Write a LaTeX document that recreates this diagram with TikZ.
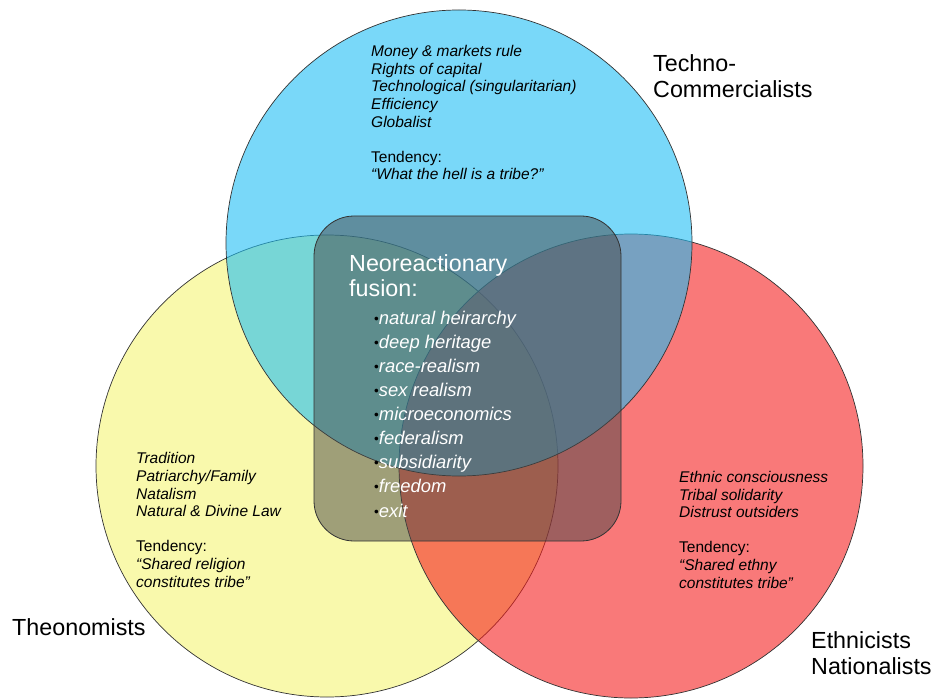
\documentclass[tikz,border=0pt]{standalone}
\usepackage{fontspec}
\setmainfont{Liberation Sans}
\definecolor{vyellow}{RGB}{245,245,115}
\definecolor{vred}{RGB}{245,28,28}
\definecolor{vblue}{RGB}{28,190,245}
\definecolor{vgray}{RGB}{70,70,70}
\newcommand\nrxbul{\raisebox{1pt}{\color{black}\fontsize{13.5}{13.5}\selectfont •}}
\begin{document}
\begin{tikzpicture}[x=1pt,y=-1pt,
  venn/.style={circle, draw=black!80, line width=0.7pt, fill opacity=0.59, inner sep=0pt},
  body/.style={anchor=base west, inner sep=0pt, align=left, font=\fontsize{15.5}{17.6}\selectfont, text=black},
  title/.style={anchor=base west, inner sep=0pt, align=left, font=\fontsize{23.3}{26}\selectfont, text=black},
  fusionbox/.style={draw=black!80, line width=0.8pt, fill=vgray, fill opacity=0.5, rounded corners=40pt, inner sep=0pt},
]
\useasboundingbox (0,0) rectangle (933,700);
\fill[white] (0,0) rectangle (933,700);
\node[venn, fill=vyellow, minimum size=462pt] (theo) at (327,466) {};
\node[venn, fill=vred, minimum size=464pt] (ethn) at (631,466) {};
\node[venn, fill=vblue, minimum size=466pt] (tech) at (459,243) {};
\node[fusionbox, minimum width=307pt, minimum height=325pt] (fus) at (467.5,378.5) {};

\node[body] (techtxt) at (371,180) {\textit{Money \& markets rule}\\
\textit{Rights of capital}\\
\textit{Technological (singularitarian)}\\
\textit{Efficiency}\\
\textit{Globalist}\\[17.6pt]
Tendency:\\
\textit{“What the hell is a tribe?”}};

\node[body] (theotxt) at (136,587) {\textit{Tradition}\\
\textit{Patriarchy/Family}\\
\textit{Natalism}\\
\textit{Natural \& Divine Law}\\[17.6pt]
Tendency:\\
\textit{“Shared religion}\\
\textit{constitutes tribe”}};

\node[body] (ethntxt) at (679,588) {\textit{Ethnic consciousness}\\
\textit{Tribal solidarity}\\
\textit{Distrust outsiders}\\[17.6pt]
Tendency:\\
\textit{“Shared ethny}\\
\textit{constitutes tribe”}};

\node[title, text=white, font=\fontsize{23.3}{25}\selectfont] (neo) at (349,297) {Neoreactionary\\fusion:};
\node[anchor=base west, inner sep=0pt, align=left, text=white, font=\fontsize{18.4}{24.1}\selectfont] (neolist) at (374,517) {%
\nrxbul\textit{natural heirarchy}\\
\nrxbul\textit{deep heritage}\\
\nrxbul\textit{race-realism}\\
\nrxbul\textit{sex realism}\\
\nrxbul\textit{microeconomics}\\
\nrxbul\textit{federalism}\\
\nrxbul\textit{subsidiarity}\\
\nrxbul\textit{freedom}\\
\nrxbul\textit{exit}};

\node[title] (techlbl) at (653,98) {Techno-\\Commercialists};
\node[title] (theolbl) at (12,635) {Theonomists};
\node[title] (ethnlbl) at (811,674) {Ethnicists\\Nationalists};
\end{tikzpicture}
\end{document}
